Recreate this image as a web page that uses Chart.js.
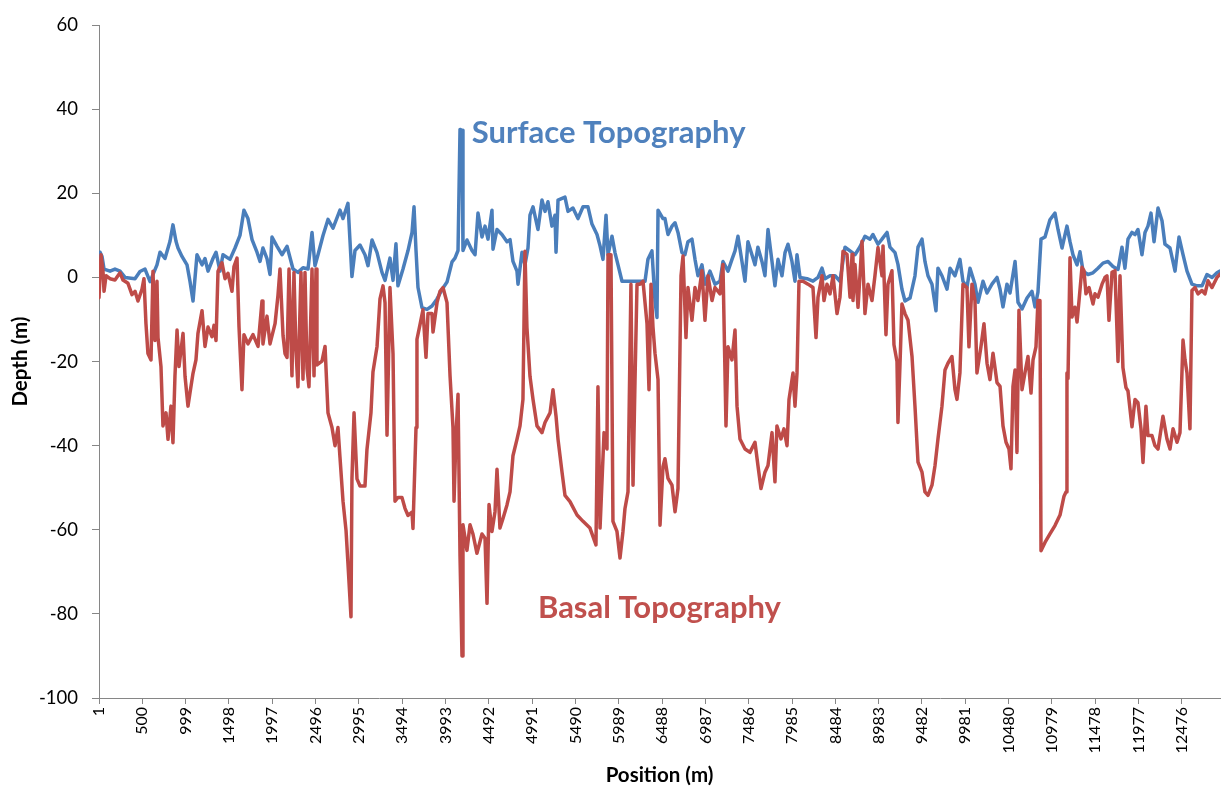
<!DOCTYPE html>
<html>
<head>
<meta charset="utf-8">
<title>Surface and basal topography profile</title>
<script src="https://cdn.jsdelivr.net/npm/chart.js@4.4.1/dist/chart.umd.min.js"></script>
<style>
  html, body { margin: 0; padding: 0; background: #fff; }
  canvas { display: block; }
</style>
</head>
<body>
<canvas id="profile" width="1225" height="794"></canvas>
<script>
/* Depth profile along the survey line: surface vs. basal topography.
 * Positions are in metres along the line, depths in metres. */

const POSITION_TICKS = [1, 500, 999, 1498, 1997, 2496, 2995, 3494, 3993, 4492, 4991, 5490, 5989,
  6488, 6987, 7486, 7985, 8484, 8983, 9482, 9981, 10480, 10979, 11478, 11977, 12476];
const DEPTH_TICKS = [-100, -80, -60, -40, -20, 0, 20, 40, 60];

const surfacePos = [
  1, 13, 36, 59, 128, 185, 243, 301, 416, 473,
  531, 589, 669, 704, 761, 819, 853, 888, 911, 957,
  1015, 1049, 1084, 1130, 1188, 1222, 1257, 1314, 1349, 1395,
  1429, 1510, 1568, 1625, 1671, 1717, 1764, 1821, 1856, 1890,
  1936, 1971, 1994, 2052, 2109, 2167, 2236, 2293, 2351, 2409,
  2455, 2489, 2524, 2581, 2639, 2697, 2777, 2812, 2869, 2892,
  2915, 2950, 3008, 3065, 3100, 3146, 3204, 3261, 3296, 3353,
  3388, 3422, 3445, 3503, 3561, 3607, 3630, 3653, 3676, 3722,
  3780, 3837, 3895, 3952, 4010, 4068, 4102, 4137, 4160, 4183,
  4194, 4240, 4298, 4333, 4367, 4413, 4448, 4482, 4528, 4540,
  4586, 4643, 4701, 4736, 4770, 4816, 4828, 4874, 4908, 4943,
  4966, 5001, 5058, 5104, 5139, 5173, 5219, 5254, 5266, 5289,
  5369, 5404, 5461, 5519, 5577, 5634, 5680, 5738, 5773, 5807,
  5842, 5865, 5911, 5945, 5980, 6026, 6153, 6291, 6325, 6371,
  6406, 6429, 6441, 6498, 6521, 6556, 6602, 6637, 6671, 6717,
  6751, 6786, 6832, 6867, 6901, 6947, 6982, 7039, 7097, 7155,
  7189, 7247, 7293, 7328, 7362, 7408, 7443, 7477, 7523, 7558,
  7592, 7638, 7673, 7708, 7754, 7788, 7823, 7869, 7904, 7938,
  7984, 8019, 8042, 8077, 8157, 8226, 8284, 8330, 8365, 8422,
  8480, 8537, 8595, 8653, 8710, 8768, 8825, 8883, 8917, 8975,
  9021, 9079, 9113, 9171, 9205, 9251, 9286, 9344, 9401, 9436,
  9482, 9516, 9551, 9597, 9643, 9666, 9712, 9770, 9805, 9862,
  9919, 9954, 10000, 10035, 10092, 10127, 10185, 10231, 10288, 10346,
  10381, 10415, 10461, 10496, 10554, 10588, 10634, 10692, 10749, 10784,
  10818, 10853, 10899, 10956, 11014, 11049, 11095, 11152, 11187, 11221,
  11268, 11302, 11337, 11394, 11452, 11509, 11567, 11625, 11682, 11740,
  11786, 11820, 11855, 11901, 11936, 11970, 12016, 12051, 12085, 12120,
  12155, 12201, 12247, 12281, 12339, 12397, 12443, 12489, 12535, 12592,
  12650, 12708, 12765, 12823, 12880, 12915,
];
const surfaceDepth = [
  5, 6, 5, 2, 1.5, 2, 1.5, 0, -0.3, 1.4,
  2, -1, 3, 6, 4.5, 8.6, 12.5, 8.6, 7, 5,
  3, -0.9, -5.6, 5.4, 3, 4.5, 1.5, 4.5, 6, 1.5,
  5.4, 4.3, 7, 10, 16, 14, 9, 6, 3.8, 7,
  4.5, 0.7, 9.6, 7.4, 5.4, 7.4, 2, 1.2, 2.3, 2,
  10.7, 2.8, 5.4, 9.9, 13.8, 11.7, 16, 14, 17.6, 8.9,
  0.2, 6.4, 7.7, 5.4, 2.8, 8.9, 5.9, 1.2, -0.7, 4.6,
  -0.7, 8, -2, 2, 6.4, 10.7, 16.8, 6.4, -2.4, -7.2,
  -7.6, -6.8, -5.1, -2.9, -1.1, 3.7, 4.6, 6.4, 35.2, 35,
  6.4, 8.9, 6.4, 5.4, 15.3, 9.6, 12.2, 9.1, 16, 6.7,
  11.4, 10.2, 8.5, 9, 3.8, 1.5, -1.6, 6, 3, 7,
  14.8, 16.8, 11.4, 18.4, 15.7, 18, 12.2, 14.8, 6, 18.4,
  19.1, 15.7, 16.5, 14, 16.8, 16.8, 12.7, 10.2, 7.5, 4.3,
  14.8, 5.4, 9.8, 5.9, 3, -0.9, -0.9, -0.9, 4.3, 6.3,
  -5.6, -9.5, 16, 14, 14, 10.2, 12.2, 13, 10.7, 5.9,
  5.4, 8.5, 9.1, 4.3, 0.4, 3, -1.6, 1.5, -1.6, -0.9,
  3.8, 1.5, 4.3, 6.3, 9.8, 3.8, -0.9, 8.5, 5.4, 3,
  7.2, 3.8, 0.4, 11.4, 3.8, -2, 4.3, 0.4, 5.9, 7.9,
  3.8, -0.9, 5.4, 0, -0.3, -0.9, 0, 2.2, -0.3, 0.4,
  0.4, -0.9, 7.2, 6.3, 5.4, 7.3, 9.8, 9.1, 10.2, 7.9,
  9.1, 10.7, 7.2, 5.9, 3.1, -2.8, -5.6, -4.9, 0.4, 7.2,
  9.1, 3.8, 0.4, -1.6, -7.9, 2.2, 0.4, -2.8, 2.2, 0.4,
  4.3, -0.9, -2.4, 2.2, -1.6, -5.9, -0.9, -3.7, -1.6, 0,
  -2.8, -7, -1.6, -3.7, 3.8, -5.9, -7.5, -4.9, -3.3, -7,
  -3.5, 9.1, 9.6, 13.7, 15.3, 11.4, 7, 12.2, 8.5, 5.4,
  3, 6.1, 1.5, 0.7, 1.1, 2.2, 3.4, 3.8, 2.6, 1.9,
  7.2, 2.2, 9.1, 10.7, 10.2, 11.4, 5.4, 10.7, 12.2, 15.3,
  8.5, 16.5, 13.5, 7.9, 7, 1.5, 9.6, 5.4, 1.5, -1.6,
  -2, -2, 0.7, 0, 1.1, 1.5,
];

const basalPos = [
  1, 24, 47, 59, 82, 128, 185, 243, 277, 335,
  381, 416, 450, 496, 519, 542, 565, 600, 623, 646,
  669, 681, 715, 738, 773, 796, 830, 853, 876, 900,
  923, 969, 992, 1026, 1049, 1084, 1118, 1141, 1188, 1222,
  1257, 1303, 1326, 1349, 1372, 1418, 1453, 1487, 1533, 1556,
  1591, 1614, 1648, 1671, 1717, 1775, 1833, 1879, 1890, 1936,
  1971, 2029, 2063, 2086, 2121, 2144, 2167, 2190, 2224, 2247,
  2270, 2293, 2328, 2351, 2374, 2397, 2420, 2455, 2478, 2501,
  2512, 2570, 2605, 2639, 2685, 2720, 2754, 2777, 2812, 2847,
  2869, 2904, 2915, 2939, 2973, 3008, 3065, 3088, 3134, 3157,
  3204, 3238, 3273, 3296, 3319, 3353, 3388, 3411, 3445, 3491,
  3526, 3561, 3607, 3618, 3653, 3664, 3699, 3733, 3768, 3791,
  3837, 3849, 3895, 3929, 3964, 4010, 4045, 4079, 4091, 4114,
  4137, 4160, 4183, 4194, 4240, 4275, 4309, 4355, 4413, 4448,
  4471, 4494, 4528, 4563, 4586, 4620, 4655, 4701, 4736, 4770,
  4816, 4851, 4885, 4908, 4931, 4966, 5001, 5047, 5104, 5139,
  5197, 5231, 5266, 5289, 5335, 5369, 5427, 5508, 5577, 5657,
  5726, 5749, 5773, 5819, 5853, 5865, 5899, 5922, 5968, 6003,
  6037, 6060, 6095, 6129, 6153, 6176, 6199, 6233, 6268, 6314,
  6337, 6360, 6383, 6406, 6441, 6464, 6498, 6521, 6556, 6602,
  6637, 6671, 6706, 6729, 6763, 6786, 6832, 6867, 6901, 6947,
  6982, 7017, 7063, 7097, 7155, 7189, 7224, 7247, 7293, 7328,
  7351, 7385, 7443, 7500, 7558, 7592, 7627, 7673, 7708, 7754,
  7788, 7811, 7857, 7892, 7927, 7950, 7996, 8019, 8042, 8065,
  8111, 8169, 8226, 8261, 8284, 8330, 8353, 8388, 8422, 8457,
  8503, 8537, 8572, 8618, 8653, 8676, 8687, 8710, 8745, 8791,
  8825, 8860, 8906, 8940, 8975, 9021, 9033, 9067, 9090, 9136,
  9159, 9194, 9205, 9228, 9251, 9286, 9321, 9367, 9401, 9436,
  9482, 9516, 9551, 9597, 9632, 9666, 9712, 9747, 9781, 9827,
  9862, 9885, 9919, 9954, 10000, 10023, 10058, 10092, 10115, 10161,
  10196, 10231, 10265, 10300, 10346, 10381, 10415, 10450, 10484, 10507,
  10530, 10554, 10576, 10599, 10634, 10668, 10703, 10738, 10761, 10795,
  10818, 10841, 10853, 10899, 10956, 11014, 11072, 11118, 11141, 11152,
  11164, 11187, 11210, 11244, 11268, 11291, 11325, 11348, 11371, 11406,
  11452, 11475, 11509, 11556, 11590, 11613, 11636, 11671, 11705, 11740,
  11763, 11797, 11832, 11855, 11901, 11936, 11970, 12005, 12028, 12062,
  12085, 12131, 12166, 12201, 12258, 12304, 12339, 12374, 12420, 12454,
  12489, 12512, 12535, 12569, 12592, 12627, 12661, 12708, 12742, 12777,
  12823, 12880, 12915,
];
const basalDepth = [
  -4.8, 5.4, 1.5, -3.3, 0.4, -0.3, -0.6, 1.1, -0.6, -1.4,
  -4.1, -3.3, -5.6, -2.8, -0.3, -11, -18.1, -19.6, 1.5, -15,
  -0.9, -14.3, -21.2, -35.3, -32.2, -38.5, -30.6, -39.3, -23.5, -12.5,
  -21.2, -13.3, -23.5, -30.6, -27.5, -22.8, -19.6, -13.3, -7.9, -16.4,
  -11.8, -14.1, -11.4, -15, 1.5, 3.5, -0.3, 1, -3.3, 2.6,
  4.6, -11.8, -26.7, -13.6, -15.8, -13.6, -16.4, -5.6, -15.8, -9.2,
  -15.8, -11, -4.2, 2, -13.8, -18.1, -19, 2, -23.4, 1.2,
  -17.3, -26, 1.2, -24.2, 1.2, -21.6, -26, 2, -23.4, 2,
  -20.8, -19.9, -16.4, -32.2, -35.7, -40, -35.7, -42.7, -53.2, -60.2,
  -68, -80.7, -47.9, -32.2, -47.9, -49.6, -49.6, -40.9, -32.2, -22.5,
  -16.4, -5.1, -2, -6, -37.5, -2.4, -18.1, -53.2, -52.3, -52.3,
  -54.9, -56.6, -55.8, -59.7, -35.7, -14.7, -11.2, -7.7, -19, -8.6,
  -8.6, -13, -6, -3.3, -2.4, -6, -23.4, -35.7, -53.2, -37.5,
  -27.8, -66.3, -90, -58.8, -64.9, -58.8, -61, -65.6, -61, -62,
  -77.5, -54, -60.4, -55.7, -45.6, -59.6, -57.3, -54.1, -51, -42.4,
  -38.5, -35.3, -29, 6.2, -11.9, -23.5, -29, -35.3, -36.9, -34.5,
  -32.2, -26.7, -33, -38.5, -46.3, -51.8, -53.3, -56.5, -58, -59.6,
  -63.6, -26, -59.6, -36.9, -40.8, 5.4, 5.4, -58, -60.4, -66.7,
  -60.4, -55, -51, -1.6, -49.4, -24.3, -1.6, -1.6, -0.9, -11,
  -26.7, -1.6, -11.8, -18, -24.3, -58.9, -45, -43.1, -47.8, -49.4,
  -55.7, -50.2, 0.4, 5.1, -14.3, -2.4, -10.2, -2.4, -5.5, 1.6,
  -10.2, 0.4, -5.5, -2.4, -3.9, 3.1, -35.3, -16.5, -19.6, -12.5,
  -30.6, -38.4, -40.8, -41.6, -39.2, -44.7, -50.2, -46.3, -44.7, -36.9,
  -48.6, -35.3, -38.4, -36, -40, -29, -22.7, -30.6, -22.7, -0.9,
  -0.9, -1.6, -2.4, -14.3, -4.7, 0.4, -5.5, -1.6, -3.9, 0.4,
  -8.6, -4.7, 6.2, 5.5, -4.7, 5.5, -5.5, 3.1, -7.1, 8.6,
  -8.6, -1.6, -5.5, 0.4, 7.1, 0.4, 7.5, -13.6, -1.6, 1.6,
  -16, -20, -34.5, -21, -6.3, -8.6, -10.2, -18.8, -30.6, -43.9,
  -46.3, -51, -51.8, -49.4, -44.7, -38.4, -30.6, -22, -20.4, -18.8,
  -26.7, -29, -22.7, -1.6, -2.4, -16.5, -1.6, -5.5, -22.7, -16.5,
  -11, -20.4, -24.3, -18, -25, -25.9, -35.3, -39.2, -40.8, -45.5,
  -25.9, -22, -41.6, -7.8, -26.7, -22.7, -18.8, -27.5, -19.6, -16.5,
  -5.5, -5.5, -65, -63, -61, -59, -56.5, -52, -51, -22.7,
  -24, 4.7, -9.4, -7.1, -10.6, -5.5, 2.4, 1.6, -3.9, -2.4,
  -6.3, -3.9, -4.7, -1.6, 0, 0.4, -10.2, 1.2, 1.6, -20,
  0.4, -21.5, -26.2, -27, -35.5, -29, -29.8, -36, -44, -30.6,
  -37.6, -37.6, -40, -40.8, -33, -38.4, -40.8, -36, -39.2, -36.9,
  -14.9, -19.6, -22.7, -36, -3.1, -2.4, -3.9, -3.1, -3.9, -0.8,
  -2.4, 0, 0.8,
];

const SURFACE_COLOR = "#4a7ebb";
const BASAL_COLOR = "#be4b48";
const AXIS_GREY = "#868686";
const FONT = "Lato, 'Open Sans', sans-serif";

// in-plot series names, anchored in data space (left edge, baseline)
const seriesLabels = [
  { text: "Surface Topography", pos: 4295, depth: 32, color: "#4f81bd" },
  { text: "Basal Topography", pos: 5058, depth: -81, color: "#c0504d" },
];

function toPoints(pos, depth) {
  return pos.map((p, i) => ({ x: p, y: depth[i] }));
}

const seriesLabelPlugin = {
  id: "seriesLabels",
  afterDatasetsDraw(chart) {
    const { ctx, scales } = chart;
    ctx.save();
    ctx.font = `bold 31px ${FONT}`;
    ctx.textAlign = "left";
    ctx.textBaseline = "alphabetic";
    seriesLabels.forEach((l) => {
      ctx.fillStyle = l.color;
      ctx.fillText(l.text, scales.x.getPixelForValue(l.pos), scales.y.getPixelForValue(l.depth));
    });
    ctx.restore();
  },
};

function drawChart() {
  Chart.defaults.font.family = FONT;
  Chart.defaults.color = "#000";

  new Chart(document.getElementById("profile"), {
    type: "line",
    data: {
      datasets: [
        { label: "Surface Topography", data: toPoints(surfacePos, surfaceDepth), borderColor: SURFACE_COLOR, order: 2 },
        { label: "Basal Topography", data: toPoints(basalPos, basalDepth), borderColor: BASAL_COLOR, order: 1 },
      ],
    },
    options: {
      responsive: false,
      animation: false,
      events: [],
      elements: {
        line: { borderWidth: 3.5, tension: 0, fill: false, borderCapStyle: "round", borderJoinStyle: "round" },
        point: { radius: 0 },
      },
      layout: { padding: { top: 18, right: 5, bottom: 0, left: 0 } },
      plugins: { legend: { display: false }, tooltip: { enabled: false } },
      scales: {
        x: {
          type: "linear",
          min: 1,
          max: 12915,
          afterBuildTicks: (s) => { s.ticks = POSITION_TICKS.map((v) => ({ value: v })); },
          afterFit: (s) => { s.height = 96; },
          ticks: {
            autoSkip: false, minRotation: 90, maxRotation: 90, padding: 3,
            font: { size: 16 }, callback: (v) => String(v),
          },
          grid: { drawOnChartArea: false, tickLength: 6, color: AXIS_GREY },
          border: { color: AXIS_GREY },
          title: { display: true, text: "Position (m)", font: { size: 20.5, weight: "bold" }, padding: { top: 6, bottom: 6 } },
        },
        y: {
          min: -100,
          max: 60,
          afterBuildTicks: (s) => { s.ticks = DEPTH_TICKS.map((v) => ({ value: v })); },
          afterFit: (s) => { s.width = 99; },
          ticks: { padding: 14, font: { size: 18.5 }, callback: (v) => String(v) },
          grid: { drawOnChartArea: false, tickLength: 7, color: AXIS_GREY },
          border: { color: AXIS_GREY },
          title: { display: true, text: "Depth (m)", font: { size: 20.5, weight: "bold" }, padding: { top: 8, bottom: 8 } },
        },
      },
    },
    plugins: [seriesLabelPlugin],
  });
}

Promise.all([
  document.fonts.load(`18px Lato`),
  document.fonts.load(`bold 18px Lato`),
]).then(drawChart, drawChart);
</script>
</body>
</html>
